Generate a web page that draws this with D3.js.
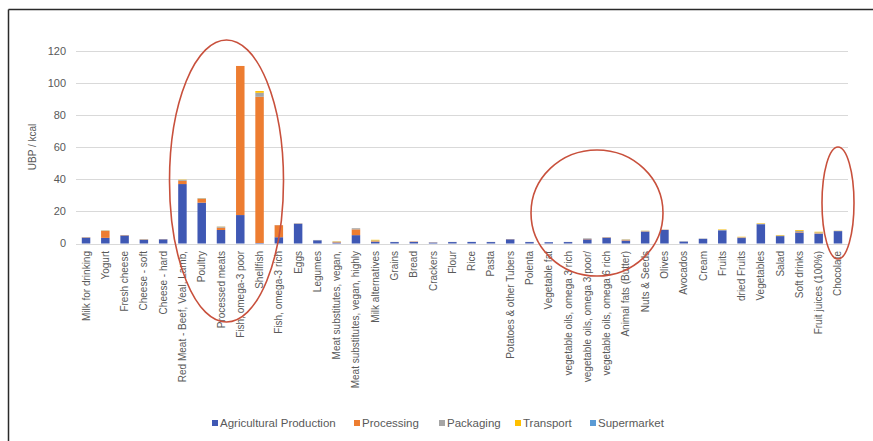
<!DOCTYPE html>
<html>
<head>
<meta charset="utf-8">
<script src="https://cdn.jsdelivr.net/npm/d3@7"></script>
<style>
  html, body { margin: 0; padding: 0; background: #fff; }
  svg { display: block; }
  text { font-family: "Liberation Sans", Arial, sans-serif; fill: #595959; }
</style>
</head>
<body>
<svg id="chart" width="873" height="441"></svg>
<script>
// Food categories along the x axis
const categories = [
  "Milk for drinking", "Yogurt", "Fresh cheese", "Cheese - soft", "Cheese - hard",
  "Red Meat - Beef, Veal, Lamb,", "Poultry", "Processed meats", "Fish, omega-3 poor", "Shellfish",
  "Fish, omega-3 rich", "Eggs", "Legumes", "Meat substitutes, vegan,", "Meat substitutes, vegan, highly",
  "Milk alternatives", "Grains", "Bread", "Crackers", "Flour",
  "Rice", "Pasta", "Potatoes & other Tubers", "Polenta", "Vegetable fat",
  "vegetable oils, omega 3 rich", "vegetable oils, omega 3 poor/", "vegetable oils, omega 6 rich", "Animal fats (Butter)", "Nuts & Seeds",
  "Olives", "Avocados", "Cream", "Fruits", "dried Fruits",
  "Vegetables", "Salad", "Soft drinks", "Fruit juices (100%)", "Chocolate"
];

// UBP per kcal, by life-cycle stage
const agricultural = [
  3.6, 3.5, 5.0, 2.3, 2.6,
  37.0, 25.4, 8.4, 17.7, 0.3,
  3.9, 12.3, 2.0, 0.6, 5.2,
  1.0, 0.9, 1.0, 0.6, 0.9,
  1.0, 0.9, 2.6, 0.9, 0.8,
  0.9, 2.6, 3.6, 1.8, 7.4,
  8.4, 1.2, 2.9, 8.2, 3.4,
  12.0, 4.6, 6.8, 6.0, 7.7
];
const processing = [
  0.2, 4.3, 0.2, 0.2, 0.1,
  2.0, 2.4, 1.4, 92.8, 91.0,
  7.5, 0.1, 0.0, 0.3, 3.6,
  0.4, 0.0, 0.2, 0.1, 0.0,
  0.0, 0.0, 0.1, 0.0, 0.0,
  0.0, 0.2, 0.2, 0.3, 0.2,
  0.1, 0.0, 0.0, 0.0, 0.3,
  0.0, 0.0, 0.3, 0.3, 0.0
];
const packaging = [
  0.2, 0.3, 0.1, 0.3, 0.1,
  0.5, 0.4, 0.7, 0.0, 2.5,
  0.1, 0.2, 0.2, 0.3, 0.7,
  0.5, 0.1, 0.1, 0.1, 0.1,
  0.0, 0.1, 0.1, 0.1, 0.0,
  0.1, 0.4, 0.2, 0.4, 0.3,
  0.2, 0.2, 0.2, 0.3, 0.3,
  0.3, 0.4, 0.8, 0.6, 0.2
];
const transport = [
  0.0, 0.1, 0.0, 0.0, 0.0,
  0.2, 0.1, 0.1, 0.0, 1.1,
  0.0, 0.0, 0.0, 0.2, 0.0,
  0.4, 0.0, 0.0, 0.0, 0.0,
  0.0, 0.0, 0.0, 0.0, 0.0,
  0.0, 0.0, 0.0, 0.1, 0.1,
  0.0, 0.0, 0.0, 0.3, 0.2,
  0.3, 0.3, 0.5, 0.4, 0.1
];
const supermarket = [
  0, 0, 0, 0, 0,  0, 0, 0, 0, 0,
  0, 0, 0, 0, 0,  0, 0, 0, 0, 0,
  0, 0, 0, 0, 0,  0, 0, 0, 0, 0,
  0, 0, 0, 0, 0,  0, 0, 0, 0, 0
];

const seriesNames = ["Agricultural Production", "Processing", "Packaging", "Transport", "Supermarket"];
const seriesValues = [agricultural, processing, packaging, transport, supermarket];
const seriesColors = ["#3f58b4", "#ed7d31", "#a5a5a5", "#ffc000", "#5b9bd5"];
const yTicks = [0, 20, 40, 60, 80, 100, 120];

const svg = d3.select("#chart");

// frame lines
svg.append("line").attr("x1", 8.5).attr("x2", 873).attr("y1", 9.5).attr("y2", 9.5)
  .attr("stroke", "#2a2a2a").attr("stroke-width", 1.5);
svg.append("line").attr("x1", 8.5).attr("x2", 8.5).attr("y1", 9.5).attr("y2", 441)
  .attr("stroke", "#2a2a2a").attr("stroke-width", 1.5);

const x = d3.scaleBand().domain(categories).range([76.4, 847.6])
  .paddingInner(0.56).paddingOuter(0.28);
const y = d3.scaleLinear().domain([0, 120]).range([243.5, 50.7]);

// gridlines
svg.append("g").selectAll("line").data(yTicks).join("line")
  .attr("x1", 76).attr("x2", 848)
  .attr("y1", d => Math.round(y(d)) + 0.5).attr("y2", d => Math.round(y(d)) + 0.5)
  .attr("stroke", "#d9d9d9").attr("stroke-width", 1);

// y tick labels
svg.append("g").selectAll("text").data(yTicks).join("text")
  .attr("x", 66).attr("y", d => y(d)).attr("dy", "0.35em")
  .attr("text-anchor", "end").attr("font-size", 11)
  .text(d => d);

// y axis title
svg.append("text")
  .attr("transform", "translate(36,147) rotate(-90)")
  .attr("text-anchor", "middle").attr("font-size", 10)
  .text("UBP / kcal");

// stacked bars
const rows = categories.map((c, i) => {
  const r = { category: c };
  seriesNames.forEach((s, k) => { r[s] = seriesValues[k][i]; });
  return r;
});
const stacked = d3.stack().keys(seriesNames)(rows);

svg.append("g").selectAll("g").data(stacked).join("g")
  .attr("fill", (d, k) => seriesColors[k])
  .selectAll("rect").data(d => d).join("rect")
  .attr("x", d => x(d.data.category))
  .attr("width", x.bandwidth())
  .attr("y", d => y(d[1]))
  .attr("height", d => Math.max(0, y(d[0]) - y(d[1])));

// category labels
svg.append("g").selectAll("text").data(categories).join("text")
  .attr("transform", d => `translate(${x(d) + x.bandwidth() / 2},251) rotate(-90)`)
  .attr("text-anchor", "end").attr("dy", "0.35em").attr("font-size", 10)
  .text(d => d);

// legend
const legendX = [212, 354, 439, 515, 590];
const legend = svg.append("g").selectAll("g").data(seriesNames).join("g")
  .attr("transform", (d, k) => `translate(${legendX[k]},423)`);
legend.append("rect").attr("x", 0).attr("y", -3).attr("width", 6).attr("height", 6)
  .attr("fill", (d, k) => seriesColors[k]);
legend.append("text").attr("x", 8).attr("dy", "0.35em").attr("font-size", 11.5)
  .text(d => d);

// highlight ellipses
const highlights = [
  { cx: 226.5, cy: 181, rx: 57, ry: 141 },
  { cx: 597, cy: 213, rx: 66, ry: 63 },
  { cx: 838, cy: 203, rx: 16, ry: 56 }
];
svg.append("g").selectAll("ellipse").data(highlights).join("ellipse")
  .attr("cx", d => d.cx).attr("cy", d => d.cy).attr("rx", d => d.rx).attr("ry", d => d.ry)
  .attr("fill", "none").attr("stroke", "#c8503c").attr("stroke-width", 1.6);
</script>
</body>
</html>
